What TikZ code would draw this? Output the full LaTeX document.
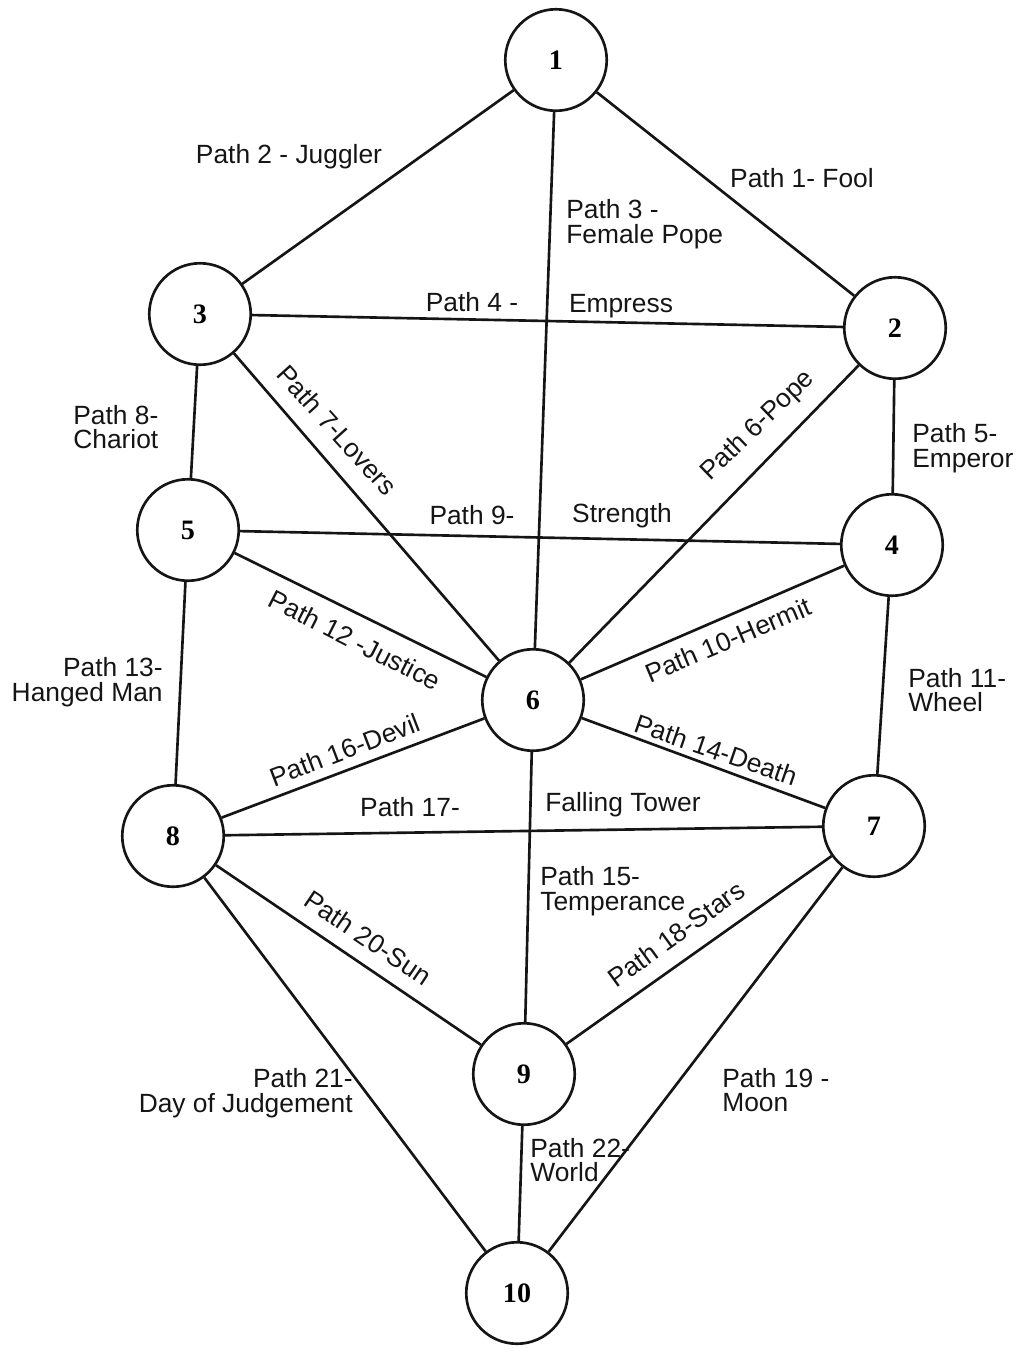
\documentclass[tikz,border=0pt]{standalone}
\usepackage{fontspec}
\setmainfont{Liberation Serif}
\newfontfamily\labelfont{Liberation Sans}
\usetikzlibrary{positioning}
\definecolor{ink}{HTML}{151515}

\begin{document}
\begin{tikzpicture}[x=0.02cm, y=-0.02cm,
  sephira/.style={circle, draw=ink, line width=1.5pt, fill=white,
                  minimum size=2.03cm, inner sep=0pt,
                  font=\fontsize{16}{18}\selectfont\bfseries},
  pathline/.style={ink, line width=1.5pt},
  pathlbl/.style={font=\labelfont\fontsize{15}{14}\selectfont, text=ink,
                  inner sep=0pt, align=left}
]
  \useasboundingbox[fill=white] (0,0) rectangle (1024,1357);

  \node[sephira] (n1) at (556,60) {1};
  \node[sephira] (n2) at (895,328) {2};
  \node[sephira] (n3) at (200,314) {3};
  \node[sephira] (n4) at (892,545) {4};
  \node[sephira] (n5) at (188,530) {5};
  \node[sephira] (n6) at (533,700) {6};
  \node[sephira] (n7) at (874,826) {7};
  \node[sephira] (n8) at (173,836) {8};
  \node[sephira] (n9) at (524,1074) {9};
  \node[sephira] (n10) at (517,1293) {10};

  \draw[pathline] (n1) -- (n3); \draw[pathline] (n1) -- (n2);
  \draw[pathline] (n1) -- (n6); \draw[pathline] (n3) -- (n2);
  \draw[pathline] (n3) -- (n5); \draw[pathline] (n3) -- (n6);
  \draw[pathline] (n2) -- (n4); \draw[pathline] (n2) -- (n6);
  \draw[pathline] (n5) -- (n4); \draw[pathline] (n5) -- (n6);
  \draw[pathline] (n4) -- (n6); \draw[pathline] (n5) -- (n8);
  \draw[pathline] (n4) -- (n7); \draw[pathline] (n8) -- (n6);
  \draw[pathline] (n6) -- (n7); \draw[pathline] (n6) -- (n9);
  \draw[pathline] (n8) -- (n7); \draw[pathline] (n8) -- (n9);
  \draw[pathline] (n9) -- (n7); \draw[pathline] (n8) -- (n10);
  \draw[pathline] (n7) -- (n10); \draw[pathline] (n9) -- (n10);

  \node[pathlbl] (p1) at (802,178) {Path 1- Fool};
  \node[pathlbl] (p2) at (289,157) {Path 2 - Juggler};
  \node[pathlbl, anchor=west] (p3) at (566,224) {Path 3 -\\Female Pope};
  \node[pathlbl] (p4) at (472,302) {Path 4 -};
  \node[pathlbl] (p4b) at (621,306) {Empress};
  \node[pathlbl, anchor=west] (p5) at (912,448) {Path 5-\\Emperor};
  \node[pathlbl, rotate=44] (p6) at (758,426) {Path 6-Pope};
  \node[pathlbl, rotate=-48] (p7) at (337,430) {Path 7-Lovers};
  \node[pathlbl, anchor=west] (p8) at (73,427) {Path 8-\\Chariot};
  \node[pathlbl] (p9) at (472,515) {Path 9-};
  \node[pathlbl] (p9b) at (622,516) {Strength};
  \node[pathlbl, rotate=23] (p10) at (728,640) {Path 10-Hermit};
  \node[pathlbl, anchor=west] (p11) at (908,690) {Path 11-\\Wheel};
  \node[pathlbl, rotate=-27] (p12) at (355,640) {Path 12 -Justice};
  \node[pathlbl, anchor=east, align=right] (p13) at (163,682) {Path 13-\\Hanged Man};
  \node[pathlbl, rotate=-19] (p14) at (716,750) {Path 14-Death};
  \node[pathlbl, anchor=west] (p15) at (540,891) {Path 15-\\Temperance};
  \node[pathlbl, rotate=21] (p16) at (345,750) {Path 16-Devil};
  \node[pathlbl] (p17) at (410,807) {Path 17-};
  \node[pathlbl] (p17b) at (623,805) {Falling Tower};
  \node[pathlbl, rotate=36] (p18) at (676,934) {Path 18-Stars};
  \node[pathlbl, anchor=west] (p19) at (722,1090) {Path 19 -\\Moon};
  \node[pathlbl, rotate=-34] (p20) at (368,938) {Path 20-Sun};
  \node[pathlbl, anchor=east, align=right] (p21) at (353,1093) {Path 21-\\Day of Judgement};
  \node[pathlbl, anchor=west] (p22) at (530,1160) {Path 22-\\World};
\end{tikzpicture}
\end{document}
